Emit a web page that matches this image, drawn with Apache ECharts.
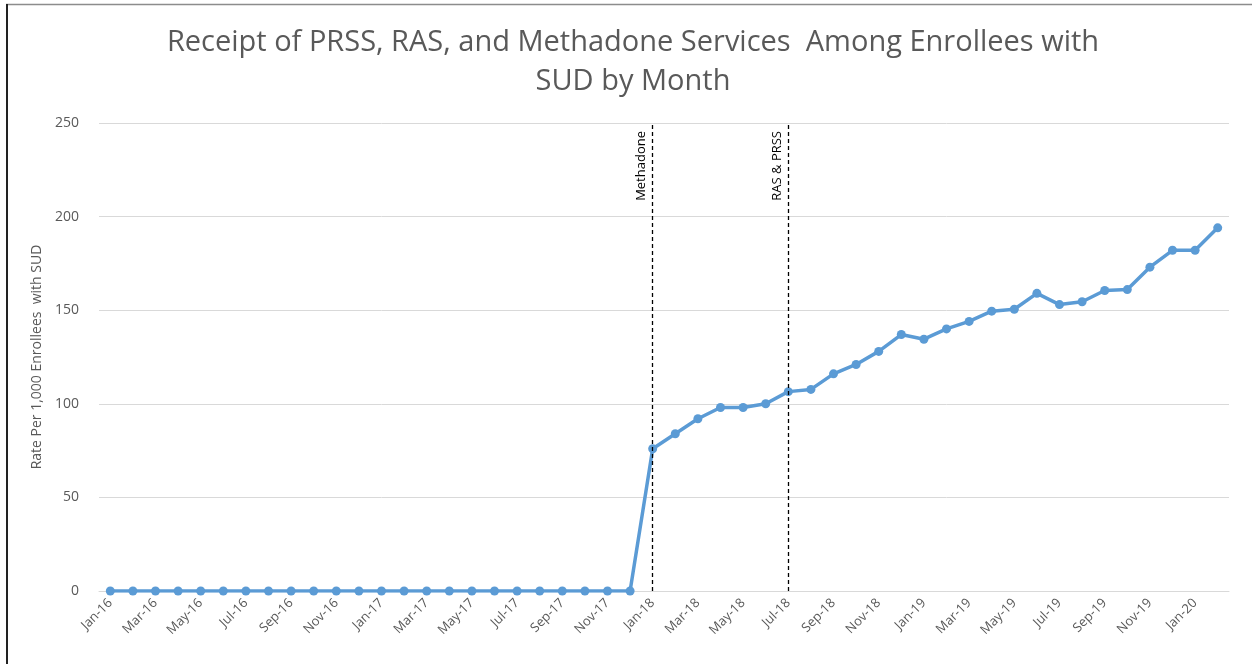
<!DOCTYPE html>
<html>
<head>
<meta charset="utf-8">
<script src="https://cdn.jsdelivr.net/npm/echarts@6/dist/echarts.min.js"></script>
<style>
html,body{margin:0;padding:0;background:#fff;}
#chart{width:1252px;height:664px;}
</style>
</head>
<body>
<div id="chart"></div>
<script>
var months=['Jan','Feb','Mar','Apr','May','Jun','Jul','Aug','Sep','Oct','Nov','Dec'];
var years=['16','17','18','19','20'];
var categories=[];
for(let y=0;y<years.length;y++){
    for(let m=0;m<12;m++){
        if(years[y]=='20' && m>1) break;
        categories.push(months[m]+'-'+years[y]);
    }
}
var zeros2016_2017=[0,0,0,0,0,0,0,0,0,0,0,0, 0,0,0,0,0,0,0,0,0,0,0,0];
var rates2018=[76,84,92,98,98,100,106.5,107.7,116,121,128,137];
var rates2019=[134.5,140,144,149.5,150.5,159,153,154.5,160.5,161,173,182];
var rates2020=[182,194];
var rates=zeros2016_2017.concat(rates2018,rates2019,rates2020);
var yTicks=[0,50,100,150,200,250];
var events=[
    {month:'Jan-18', label:'Methadone'},
    {month:'Jul-18', label:'RAS & PRSS'}
];

var chart=echarts.init(document.getElementById('chart'));
var option={
    animation:false,
    textStyle:{fontFamily:'Open Sans'},
    title:{
        text:'Receipt of PRSS, RAS, and Methadone Services  Among Enrollees with\nSUD by Month',
        left:628,
        textAlign:'center',
        top:18,
        textStyle:{fontFamily:'Open Sans',fontSize:29,fontWeight:'normal',color:'#595959',lineHeight:39}
    },
    grid:{left:99,right:23,top:123,bottom:73,containLabel:false},
    xAxis:{
        type:'category',
        data:categories,
        boundaryGap:true,
        axisLine:{show:true,lineStyle:{color:'#d9d9d9',width:1}},
        axisTick:{show:false},
        axisLabel:{interval:1,rotate:45,color:'#595959',fontSize:13,margin:10}
    },
    yAxis:{
        type:'value',
        min:yTicks[0],
        max:yTicks[yTicks.length-1],
        interval:50,
        name:'Rate Per 1,000 Enrollees  with SUD',
        nameLocation:'middle',
        nameGap:40,
        nameTextStyle:{color:'#595959',fontSize:14},
        axisLine:{show:false},
        axisTick:{show:false},
        axisLabel:{color:'#595959',fontSize:14,margin:20},
        splitLine:{lineStyle:{color:'#d9d9d9',width:1}}
    },
    series:[{
        type:'line',
        data:rates,
        symbol:'circle',
        symbolSize:9,
        lineStyle:{color:'#5b9bd5',width:3.5},
        itemStyle:{color:'#5b9bd5'},
        markLine:{
            symbol:['none','none'],
            silent:true,
            lineStyle:{color:'#000',type:[4,3],width:1.3},
            label:{show:true,position:'insideEndTop',color:'#000',fontSize:13,distance:[8,5]},
            data:events.map(function(e){return {xAxis:e.month,label:{formatter:e.label}};})
        }
    }],
    graphic:[
        {type:'line',shape:{x1:6,y1:4.5,x2:1252,y2:4.5},style:{stroke:'#8c8c8c',lineWidth:1.5}},
        {type:'line',shape:{x1:7,y1:4,x2:7,y2:664},style:{stroke:'#222',lineWidth:2}}
    ]
};
chart.setOption(option);
</script>
</body>
</html>
